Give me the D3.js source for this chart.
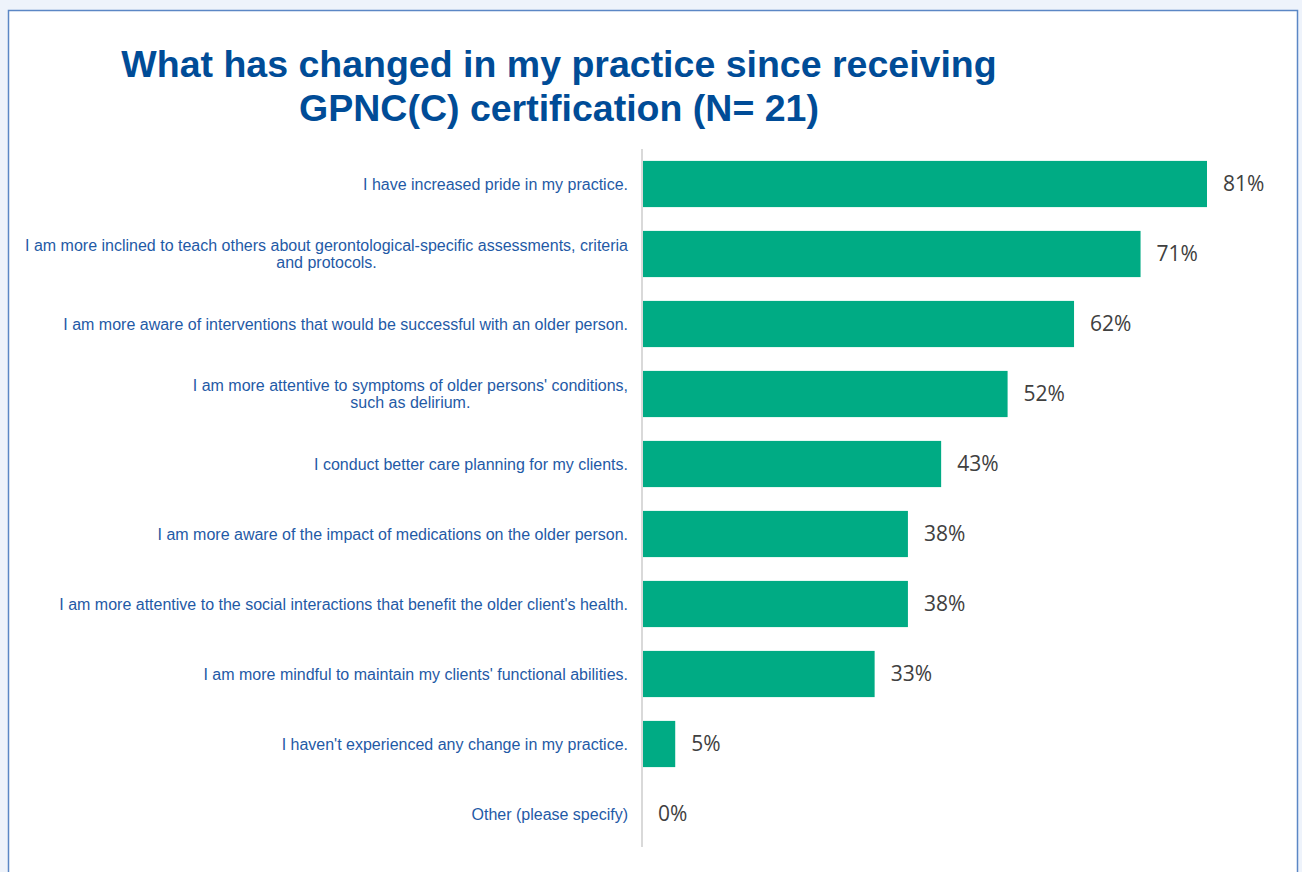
<!DOCTYPE html>
<html>
<head>
<meta charset="utf-8">
<script src="https://cdn.jsdelivr.net/npm/d3@7"></script>
<style>
  html, body { margin: 0; padding: 0; background: #eef3fb; }
  svg { display: block; }
</style>
</head>
<body>
<svg id="chart" width="1302" height="872"></svg>
<script>
// Survey answers, top to bottom (\n = line break in the label)
const categories = [
  "I have increased pride in my practice.",
  "I am more inclined to teach others about gerontological-specific assessments, criteria\nand protocols.",
  "I am more aware of interventions that would be successful with an older person.",
  "I am more attentive to symptoms of older persons' conditions,\nsuch as delirium.",
  "I conduct better care planning for my clients.",
  "I am more aware of the impact of medications on the older person.",
  "I am more attentive to the social interactions that benefit the older client's health.",
  "I am more mindful to maintain my clients' functional abilities.",
  "I haven't experienced any change in my practice.",
  "Other (please specify)"
];
// share of respondents (N = 21), percent
const values = [80.95, 71.43, 61.90, 52.38, 42.86, 38.10, 38.10, 33.33, 4.76, 0];
const valueLabels = ["81%", "71%", "62%", "52%", "43%", "38%", "38%", "33%", "5%", "0%"];
const titleLines = ["What has changed in my practice since receiving", "GPNC(C) certification (N= 21)"];

const svg = d3.select("#chart");

// white panel with blue frame
svg.append("rect")
  .attr("x", 8.5).attr("y", 10.5)
  .attr("width", 1289).attr("height", 880)
  .attr("fill", "#fff")
  .attr("stroke", "#5b87c5")
  .attr("stroke-width", 1.5);

// title
svg.append("g").selectAll("text")
  .data(titleLines)
  .join("text")
  .attr("x", 559)
  .attr("y", (d, i) => 77 + i * 44)
  .attr("text-anchor", "middle")
  .attr("font-family", "Liberation Sans, Arial, sans-serif")
  .attr("font-weight", "bold")
  .attr("font-size", 37.5)
  .attr("fill", "#004c97")
  .text(d => d);

const x0 = 642;
const x = d3.scaleLinear().domain([0, 80.95]).range([x0, 1207]);
const y = d3.scaleBand()
  .domain(d3.range(categories.length))
  .range([149, 849])
  .paddingInner(0.34)
  .paddingOuter(0.17);

// bars
svg.append("g").selectAll("rect")
  .data(values)
  .join("rect")
  .attr("x", x0 + 1)
  .attr("y", (d, i) => y(i))
  .attr("width", d => Math.max(0, x(d) - x0 - 1))
  .attr("height", y.bandwidth())
  .attr("fill", "#00ab84");

// value labels
svg.append("g").selectAll("text")
  .data(values)
  .join("text")
  .attr("x", d => x(d) + 16)
  .attr("y", (d, i) => y(i) + y.bandwidth() / 2)
  .attr("dy", "0.35em")
  .attr("font-family", "Open Sans, sans-serif")
  .attr("font-size", 21)
  .attr("fill", "#404040")
  .text((d, i) => valueLabels[i]);

// category axis line
svg.append("line")
  .attr("x1", x0).attr("x2", x0)
  .attr("y1", 149).attr("y2", 847)
  .attr("stroke", "#d9d9d9")
  .attr("stroke-width", 2);

// category labels: block right-aligned to the axis, lines centred inside it
const labelRight = 628;
const lineH = 17.5;
const labels = svg.append("g")
  .attr("font-family", "Liberation Sans, Arial, sans-serif")
  .attr("font-size", 16)
  .attr("fill", "#1f5aa6");

categories.forEach((c, i) => {
  const lines = c.split("\n");
  const cy = y(i) + y.bandwidth() / 2;
  const t = labels.append("text").attr("text-anchor", "middle");
  const spans = lines.map((l, k) => t.append("tspan")
    .attr("y", cy + (k - (lines.length - 1) / 2) * lineH)
    .attr("dy", "0.35em")
    .text(l));
  const w = d3.max(spans, s => s.node().getComputedTextLength());
  spans.forEach(s => s.attr("x", labelRight - w / 2));
});
</script>
</body>
</html>
